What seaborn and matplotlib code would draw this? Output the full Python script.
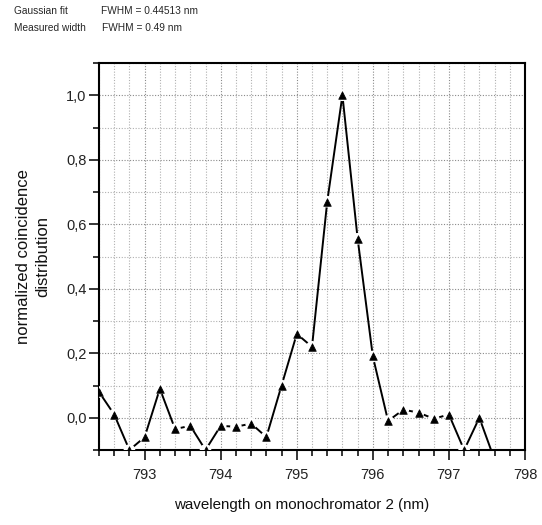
import pandas as pd
import matplotlib
matplotlib.use("Agg")
import matplotlib.pyplot as plt
import seaborn as sns
from matplotlib.ticker import MultipleLocator, FixedLocator, FixedFormatter

# ---------------------------------------------------------------------------
# data (0.2 nm steps on monochromator 2)
# ---------------------------------------------------------------------------
wavelength = [792.4, 792.6, 792.8, 793.0, 793.2, 793.4, 793.6, 793.8, 794.0,
              794.2, 794.4, 794.6, 794.8, 795.0, 795.2, 795.4, 795.6, 795.8,
              796.0, 796.2, 796.4, 796.6, 796.8, 797.0, 797.2, 797.4, 797.6]
coincidence = [0.08, 0.01, -0.10, -0.06, 0.09, -0.035, -0.025, -0.10, -0.025,
               -0.028, -0.018, -0.06, 0.10, 0.26, 0.22, 0.67, 1.00, 0.555,
               0.19, -0.01, 0.025, 0.016, -0.003, 0.01, -0.10, 0.0, -0.13]

yticks = [0.0, 0.2, 0.4, 0.6, 0.8, 1.0]
ytick_labels = ["0,0", "0,2", "0,4", "0,6", "0,8", "1,0"]
xticks = [793, 794, 795, 796, 797, 798]

header_left = ["Gaussian fit", "Measured width"]
header_right = ["FWHM = 0.44513 nm", "FWHM = 0.49 nm"]

df = pd.DataFrame({"wavelength": wavelength, "coincidence": coincidence})

sns.set_style("white")
plt.rcParams["font.family"] = ["Liberation Sans", "DejaVu Sans"]

fig = plt.figure(figsize=(5.42, 5.25), dpi=100)
ax = fig.add_axes([99 / 542, 1 - 450 / 525, 426 / 542, 387 / 525])
ax.set_axisbelow(True)

sns.lineplot(data=df, x="wavelength", y="coincidence", sort=False, ax=ax,
             color="black", linewidth=1.4, zorder=3)
# white halo gives the broken-line look around each symbol
sns.scatterplot(data=df, x="wavelength", y="coincidence", ax=ax, marker="o",
                s=70, color="white", edgecolor="none", zorder=4)
sns.scatterplot(data=df, x="wavelength", y="coincidence", ax=ax, marker="^",
                s=30, color="black", edgecolor="black", linewidth=0.5, zorder=5)

ax.set_xlim(792.4, 798)
ax.set_ylim(-0.1, 1.1)

ax.xaxis.set_major_locator(FixedLocator(xticks))
ax.xaxis.set_minor_locator(MultipleLocator(0.2))
ax.yaxis.set_major_locator(FixedLocator(yticks))
ax.yaxis.set_major_formatter(FixedFormatter(ytick_labels))
ax.yaxis.set_minor_locator(MultipleLocator(0.1))

ax.grid(which="major", color="#8a8a8a", linestyle=(0, (1, 1.5)), linewidth=0.8)
ax.grid(which="minor", color="#b0b0b0", linestyle=(0, (1, 1.5)), linewidth=0.8)

ax.tick_params(which="major", direction="out", length=7, width=1.3,
               bottom=True, left=True, top=False, right=False)
ax.tick_params(axis="x", which="major", pad=6)
ax.tick_params(axis="y", which="major", pad=2)
ax.tick_params(which="minor", direction="out", length=4, width=1.3,
               bottom=True, left=True, top=False, right=False)
for lbl in ax.get_xticklabels() + ax.get_yticklabels():
    lbl.set_fontsize(10.5)
    lbl.set_color("#222222")

for side in ["left", "right", "top", "bottom"]:
    ax.spines[side].set_visible(True)
    ax.spines[side].set_color("black")
    ax.spines[side].set_linewidth(1.5)

ax.set_xlabel("wavelength on monochromator 2 (nm)", fontsize=10.9, color="#111111")
ax.xaxis.set_label_coords(0.475, -0.142)
ax.xaxis.label.set_verticalalignment("center")
ax.set_ylabel("normalized coincidence\ndistribution", fontsize=12,
              color="#111111", linespacing=1.35)
ax.yaxis.set_label_coords(-0.155, 0.5)
ax.yaxis.label.set_verticalalignment("center")

for i, (a, b) in enumerate(zip(header_left, header_right)):
    y = 1 - (11 + 17 * i) / 525
    fig.text(14 / 542, y, a, fontsize=7.3, va="center")
    fig.text((101 + i) / 542, y, b, fontsize=7.3, va="center")

fig.savefig("out.png", dpi=100)
